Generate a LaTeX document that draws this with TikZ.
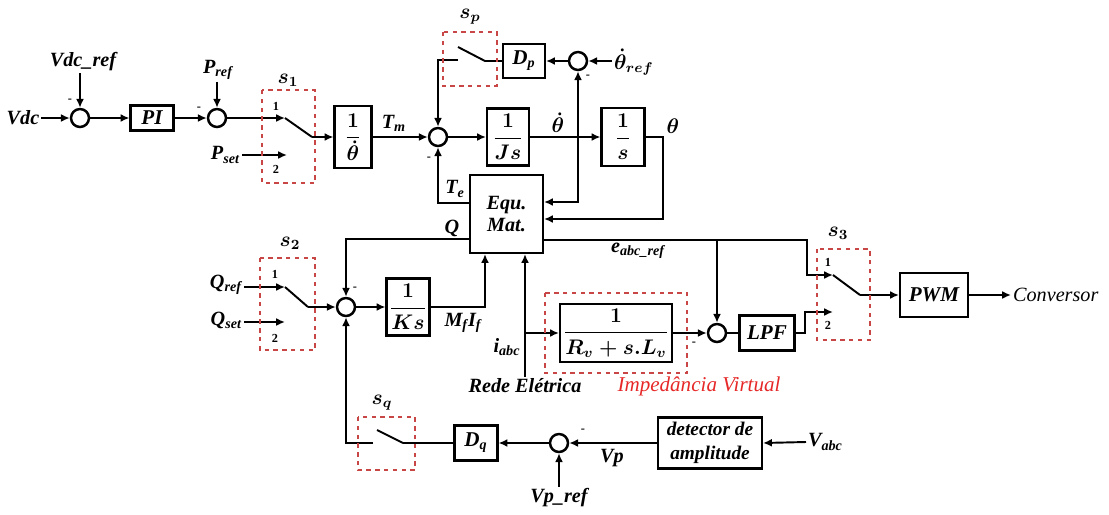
\documentclass[tikz,border=0pt]{standalone}
\usepackage{fontspec}
\setmainfont{Liberation Serif}
\usepackage{amsmath}
\usetikzlibrary{arrows.meta}
\definecolor{dred}{RGB}{200,70,70}
\definecolor{lred}{RGB}{230,40,40}
\begin{document}
\begin{tikzpicture}[x=0.02cm,y=-0.02cm,
  ln/.style={line width=1.1pt},
  arr/.style={line width=1.1pt,-{Latex[length=5pt,width=4.5pt]}},
  blk/.style={draw,line width=1.2pt,inner sep=0pt,font=\fontsize{12}{14}\selectfont\bfseries\itshape\boldmath,align=center},
  sumc/.style={circle,draw,line width=1.4pt,minimum size=0.36cm,inner sep=0pt},
  lbl/.style={inner sep=1pt,font=\fontsize{11.5}{13}\selectfont\bfseries\itshape\boldmath},
  sg/.style={inner sep=0pt,font=\scriptsize\bfseries},
  num/.style={inner sep=0pt,font=\scriptsize\bfseries},
  dbox/.style={draw=dred,line width=1.3pt,dash pattern=on 2.5pt off 2.5pt}]
\useasboundingbox (0,0) rectangle (1109,514);

% ---------- top row ----------
\node[sumc] (s1) at (80,118) {};
\node[lbl] (vdc) at (23,118) {Vdc};
\draw[arr] (vdc.east) -- (s1.west);
\node[lbl] (vdcref) at (83,62) {Vdc\_ref};
\draw[arr] (s1.north |- vdcref.south) -- (s1.north);
\node[sg] (m1) at (70,101) {-};

\node[blk,minimum width=0.86cm,minimum height=0.5cm] (pi) at (152,118) {PI};
\draw[arr] (s1) -- (pi);
\node[sumc] (s2) at (217,118) {};
\draw[arr] (pi) -- (s2);
\node[sg] (m2) at (199,109) {-};
\node[lbl] (pref) at (218,70) {P\textsubscript{ref}};
\draw[arr] (s2.north |- pref.south) -- (s2.north);

\coordinate (s1a) at (285,118);
\coordinate (s1b) at (312,137);
\coordinate (s1c) at (287,155);
\draw[arr] (s2) -- (s1a);
\draw[ln] (s1a) -- (s1b);
\node[lbl,anchor=east] (pset) at (242,155) {P\textsubscript{set}};
\draw[arr] (pset.east) -- (s1c);
\node[num] (n11) at (276,106) {1};
\node[num] (n12) at (276,169) {2};
\node[lbl] (s1l) at (288,80) {$s_1$};
\draw[dbox] (262,90) rectangle (315,183);

\node[blk,minimum width=0.74cm,minimum height=1.24cm] (thinv) at (353,137) {$\dfrac{1}{\dot{\theta}}$};
\draw[arr] (s1b) -- (thinv.west);
\node[lbl] (tm) at (394,123) {T\textsubscript{m}};
\node[sumc] (s3) at (438,137) {};
\draw[arr] (thinv) -- (s3);
\node[blk,minimum width=0.84cm,minimum height=1.14cm] (js) at (508,137) {$\dfrac{1}{Js}$};
\draw[arr] (s3) -- (js);
\node[blk,minimum width=0.86cm,minimum height=1.16cm] (sb) at (623,137) {$\dfrac{1}{s}$};
\draw[arr] (js) -- (sb);
\node[lbl] (thd) at (558,123) {$\dot{\theta}$};
\node[lbl] (th) at (673,126) {$\theta$};

% Equ. Mat.
\node[blk,minimum width=1.46cm,minimum height=1.56cm,font=\fontsize{11.5}{13}\selectfont\bfseries\itshape] (equ) at (506.5,214) {Equ.\\Mat.};

% theta feedback
\coordinate (tf) at (663,219);
\draw[arr] (sb.east) -| (tf) -- (equ.east |- tf);

% theta-dot branch
\coordinate (b1) at (578,137);
\coordinate (b2) at (578,202);
\node[sumc] (s4) at (578,61) {};
\draw[arr] (b1) -- (s4.south);
\draw[arr] (b1) -- (b2) -- (equ.east |- b2);
\node[sg] (p4) at (588,77) {-};
\node[lbl,anchor=west] (thref) at (612,62) {$\dot{\theta}_{ref}$};
\draw[arr] (thref.west |- s4) -- (s4.east);

\node[blk,minimum width=0.84cm,minimum height=0.68cm] (dp) at (524,61) {D\textsubscript{p}};
\draw[arr] (s4) -- (dp);
\coordinate (spa) at (485,61);
\coordinate (spb) at (458,47);
\coordinate (spc) at (458,60);
\coordinate (spd) at (438,60);
\draw[ln] (dp.west) -- (spa) -- (spb);
\draw[arr] (spc) -- (spd) -- (s3.north);
\draw[dbox] (443,32) rectangle (497,86);
\node[lbl] (spl) at (470,17) {$s_p$};

% Te
\coordinate (te1) at (438,203);
\draw[arr] (equ.west |- te1) -- (te1) -- (s3.south);
\node[lbl] (tel) at (455,189) {T\textsubscript{e}};
\node[sg] (m3) at (429,159) {-};

% ---------- Q loop ----------
\node[sumc] (s5) at (346,307) {};
\coordinate (q1) at (346,239);
\draw[arr] (equ.west |- q1) -- (q1) -- (s5.north);
\node[lbl] (ql) at (452,228) {Q};
\node[sg] (p5) at (355,289) {-};

\coordinate (s2a) at (285,287);
\coordinate (s2b) at (308,307);
\coordinate (s2c) at (285,322);
\node[lbl,anchor=east] (qref) at (244,285) {Q\textsubscript{ref}};
\node[lbl,anchor=east] (qset) at (244,320) {Q\textsubscript{set}};
\draw[arr] (qref.east |- s2a) -- (s2a);
\draw[arr] (qset.east |- s2c) -- (s2c);
\draw[ln] (s2a) -- (s2b);
\draw[arr] (s2b) -- (s5.west);
\node[num] (n21) at (275,274) {1};
\node[num] (n22) at (275,338) {2};
\draw[dbox] (260,258) rectangle (315,350);
\node[lbl] (s2l) at (290,243) {$s_2$};

\node[blk,minimum width=0.86cm,minimum height=1.14cm] (ks) at (408,307) {$\dfrac{1}{Ks}$};
\draw[arr] (s5) -- (ks);
\coordinate (mf) at (485,307);
\draw[arr] (ks.east) -- (mf) -- (mf |- equ.south);
\node[lbl] (mfl) at (463,323) {M\textsubscript{f}I\textsubscript{f}};

% i_abc
\node[lbl] (rede) at (525,386) {Rede Elétrica};
\coordinate (ia1) at (525,333);
\draw[arr] (rede.north) -- (rede.north |- equ.south);
\node[lbl] (ial) at (507,347) {i\textsubscript{abc}};

% virtual impedance
\node[blk,minimum width=2.24cm,minimum height=1.16cm] (imp) at (616,333) {$\dfrac{1}{R_v+s.L_v}$};
\draw[arr] (ia1) -- (imp.west);
\draw[dbox] (545,293) rectangle (687,373);
\node[lbl,text=lred,font=\fontsize{12}{14}\selectfont\itshape] (impl) at (699,386) {Impedância Virtual};

\node[sumc] (s6) at (717,333) {};
\draw[arr] (imp) -- (s6);
\node[sg] (m6) at (694,344) {-};

% e_abc_ref
\coordinate (ea) at (807,240);
\coordinate (eb) at (717,240);
\coordinate (s3a) at (833,275);
\coordinate (s3b) at (860,295);
\coordinate (s3c) at (833,312);
\draw[arr] (equ.east |- ea) -- (ea) |- (s3a);
\draw[arr] (eb) -- (s6.north);
\node[lbl] (eal) at (638,251) {e\textsubscript{abc\_ref}};

\node[blk,minimum width=1.1cm,minimum height=0.7cm] (lpf) at (767,333) {LPF};
\draw[ln] (s6) -- (lpf);
\coordinate (lp1) at (805,333);
\draw[arr] (lpf.east) -- (lp1) |- (s3c);
\draw[ln] (s3a) -- (s3b);
\node[blk,minimum width=1.36cm,minimum height=0.88cm] (pwm) at (934,295) {PWM};
\draw[arr] (s3b) -- (pwm.west);
\node[lbl,anchor=west,font=\fontsize{11.5}{13}\selectfont\itshape] (conv) at (1011,295) {Conversor};
\draw[arr] (pwm) -- (conv);
\node[num] (n31) at (828,262) {1};
\node[num] (n32) at (828,325) {2};
\draw[dbox] (817,249) rectangle (870,340);
\node[lbl] (s3l) at (838,233) {$s_3$};

% ---------- bottom row ----------
\coordinate (bq) at (346,443);
\coordinate (sqa) at (373,443);
\coordinate (sqb) at (377,430);
\coordinate (sqc) at (403,443);
\draw[arr] (sqa) -- (bq) -- (s5.south);
\draw[ln] (sqb) -- (sqc);
\node[blk,minimum width=0.86cm,minimum height=0.7cm] (dq) at (476,443) {D\textsubscript{q}};
\draw[ln] (sqc) -- (dq.west);
\draw[dbox] (358,417) rectangle (415,470);
\node[lbl] (sql) at (382,403) {$s_q$};

\node[sumc] (s7) at (559,443) {};
\draw[arr] (s7) -- (dq);
\node[lbl] (vpref) at (559,498) {Vp\_ref};
\draw[arr] (vpref.north) -- (s7.south);
\node[blk,minimum width=2.08cm,minimum height=1.02cm,font=\fontsize{11}{14}\selectfont\bfseries\itshape] (det) at (710,443) {detector de\\amplitude};
\draw[arr] (det) -- (s7);
\node[lbl] (vpl) at (612,458) {Vp};
\node[sg] (m7) at (583,431) {-};
\node[lbl,anchor=west] (vabc) at (806,442) {V\textsubscript{abc}};
\draw[arr] (vabc.west) -- (det.east);
\end{tikzpicture}
\end{document}
